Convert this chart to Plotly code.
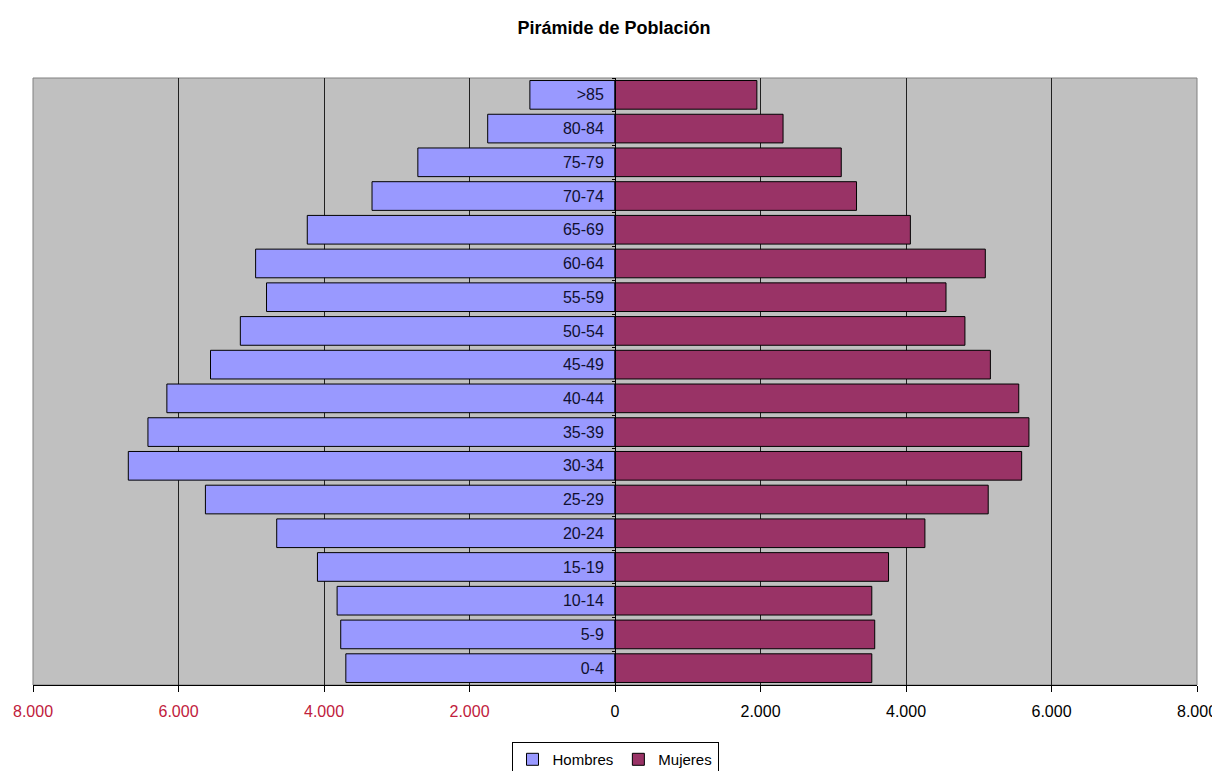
import plotly.graph_objects as go

grupos = ["0-4", "5-9", "10-14", "15-19", "20-24", "25-29", "30-34", "35-39",
          "40-44", "45-49", "50-54", "55-59", "60-64", "65-69", "70-74",
          "75-79", "80-84", ">85"]
hombres = [3700, 3770, 3820, 4090, 4650, 5630, 6690, 6420, 6160, 5560,
           5150, 4790, 4940, 4230, 3340, 2710, 1750, 1170]
mujeres = [3530, 3570, 3530, 3760, 4260, 5130, 5590, 5690, 5550, 5160,
           4810, 4550, 5090, 4060, 3320, 3110, 2310, 1950]

tick_vals = [-8000, -6000, -4000, -2000, 0, 2000, 4000, 6000, 8000]
tick_text = ["8.000", "6.000", "4.000", "2.000", "0", "2.000", "4.000", "6.000", "8.000"]
neg_color = "#C0203C"
tick_labels = [
    (f'<span style="fill:{neg_color}">{t}</span>' if v < 0 else t)
    for v, t in zip(tick_vals, tick_text)
]

# page has an 8px body margin; figure sized so it ends at the window edge
W, H = 1212, 763
fig = go.Figure()
fig.add_trace(go.Bar(
    y=grupos, x=[-v for v in hombres], orientation="h", name="Hombres",
    marker=dict(color="#9999FF", line=dict(color="#000000", width=1)),
))
fig.add_trace(go.Bar(
    y=grupos, x=mujeres, orientation="h", name="Mujeres",
    marker=dict(color="#993366", line=dict(color="#000000", width=1)),
))

fig.update_layout(
    width=W, height=H,
    margin=dict(l=25, r=23, t=70, b=86, autoexpand=False),
    paper_bgcolor="#FFFFFF",
    plot_bgcolor="#C0C0C0",
    barmode="overlay",
    bargap=0.15,
    font=dict(family="Liberation Sans, Arial", size=16, color="#000000"),
    title=dict(text="<b>Pirámide de Población</b>", x=0.5, xanchor="center",
               y=1 - 20 / H, yanchor="middle",
               font=dict(family="Liberation Sans, Arial", size=18, color="#000000")),
    xaxis=dict(
        range=[-8000, 8000], tickvals=tick_vals, ticktext=tick_labels,
        showgrid=True, gridcolor="#202020", gridwidth=1, automargin=False,
        zeroline=False, showline=True, linecolor="#000000", linewidth=1,
        ticks="outside", ticklen=6, tickcolor="#000000", ticklabelstandoff=6,
        tickfont=dict(size=16, color="#000000"),
    ),
    yaxis=dict(
        type="category", anchor="free", position=0.5, automargin=False,
        showgrid=False, zeroline=False, showline=True, linecolor="#000000",
        linewidth=1, ticks="outside", ticklen=3, tickcolor="#000000",
        tickson="boundaries", ticklabelstandoff=8,
        tickfont=dict(size=16, color="#101030"),
        fixedrange=True,
    ),
    legend=dict(
        orientation="h", x=0.5, xanchor="center", y=-0.094, yanchor="top",
        bgcolor="#FFFFFF", bordercolor="#000000", borderwidth=1,
        font=dict(size=15), itemwidth=30, tracegroupgap=0,
    ),
    shapes=[dict(type="rect", xref="paper", yref="paper", x0=0, x1=1, y0=0, y1=1,
                 line=dict(color="#808080", width=1), layer="below")],
)

fig.write_html("out.html")
